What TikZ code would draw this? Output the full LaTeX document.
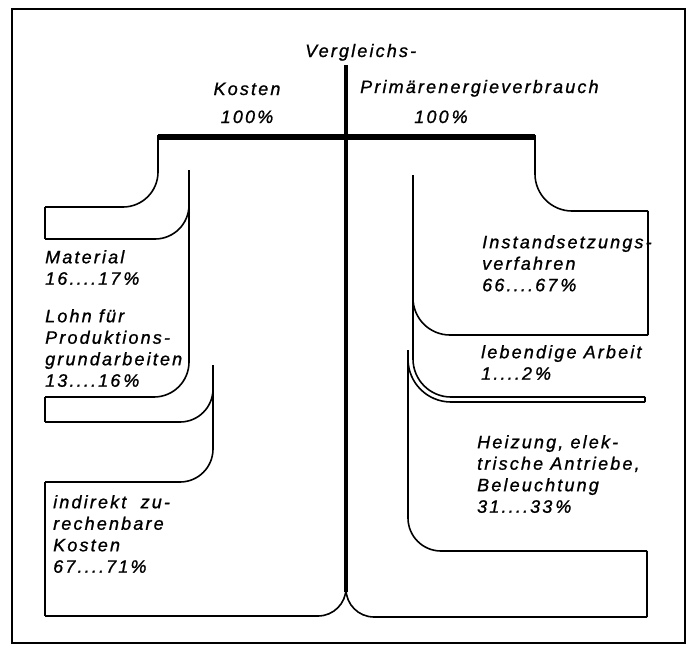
\documentclass[tikz,border=0pt]{standalone}
\usepackage{fontspec}
\setmainfont{Liberation Sans}[LetterSpace=12,FakeBold=1]
\usepackage{tikz}

\begin{document}
\begin{tikzpicture}[x=1pt,y=-1pt,
  frame/.style={line width=2pt},
  bar/.style={line width=5.5pt},
  axis/.style={line width=4.5pt},
  flow/.style={line width=1.6pt},
  lbl/.style={font=\itshape\fontsize{18}{21.5}\selectfont,inner sep=0pt,align=left,anchor=north west}]
\useasboundingbox (0,0) rectangle (694,648);
\draw[frame] (12,9) rectangle (685,643);
% Vergleichsbalken
\draw[bar] (158,137) -- (535,137);
\draw[axis] (346,65) -- (346,592);
\node[lbl,anchor=base west] (vgl) at (305,57) {Vergleichs-};
\node[lbl,anchor=base] (kosten) at (247,95) {Kosten};
\node[lbl,anchor=base] (kostenpct) at (247,123) {100\%};
\node[lbl,anchor=base west] (pev) at (360,93) {Primärenergieverbrauch};
\node[lbl,anchor=base] (pevpct) at (441,123) {100\,\%};
% Kosten (links)
\draw[flow,rounded corners=35pt] (158,135) -- (158,207) -- (45,207);
\draw[flow] (45,207) -- (45,239);
\draw[flow,rounded corners=34pt] (45,239) -- (189,239) -- (189,205);
\draw[flow,rounded corners=35pt] (189,170) -- (189,397) -- (45,397);
\draw[flow] (45,397) -- (45,422);
\draw[flow,rounded corners=33pt] (45,422) -- (213,422) -- (213,389);
\draw[flow,rounded corners=33pt] (213,365) -- (213,482) -- (45,482);
\draw[flow] (45,482) -- (45,616);
\draw[flow,rounded corners=28pt] (45,616) -- (346,616) -- (346,588);
\node[lbl] (material) at (45,250) {Material\\16....17\,\%};
\node[lbl] (lohn) at (45,309) {Lohn für\\Produktions-\\grundarbeiten\\13....16\,\%};
\node[lbl] (indirekt) at (53,495) {indirekt\ \ zu-\\rechenbare\\Kosten\\67....71\%};
% Primaerenergie (rechts)
\draw[flow,rounded corners=37pt] (535,135) -- (535,211) -- (648,211);
\draw[flow] (648,211) -- (648,335);
\draw[flow,rounded corners=37pt] (648,335) -- (413,335) -- (413,298);
\draw[flow,rounded corners=38pt] (413,175) -- (413,397) -- (645,397);
\draw[flow] (645,397) -- (645,402);
\draw[flow,rounded corners=43pt] (645,402) -- (408,402) -- (408,359);
\draw[flow,rounded corners=33pt] (408,350) -- (408,551) -- (647,551);
\draw[flow] (647,551) -- (647,617);
\draw[flow,rounded corners=28pt] (647,617) -- (346,617) -- (346,589);
\node[lbl] (instand) at (482,235) {Instandsetzungs-\\verfahren\\66....67\,\%};
\node[lbl] (lebendig) at (481,345) {lebendige Arbeit\\1....2\,\%};
\node[lbl] (heizung) at (477,435) {Heizung, elek-\\trische Antriebe,\\Beleuchtung\\31....33\,\%};
\end{tikzpicture}
\end{document}
